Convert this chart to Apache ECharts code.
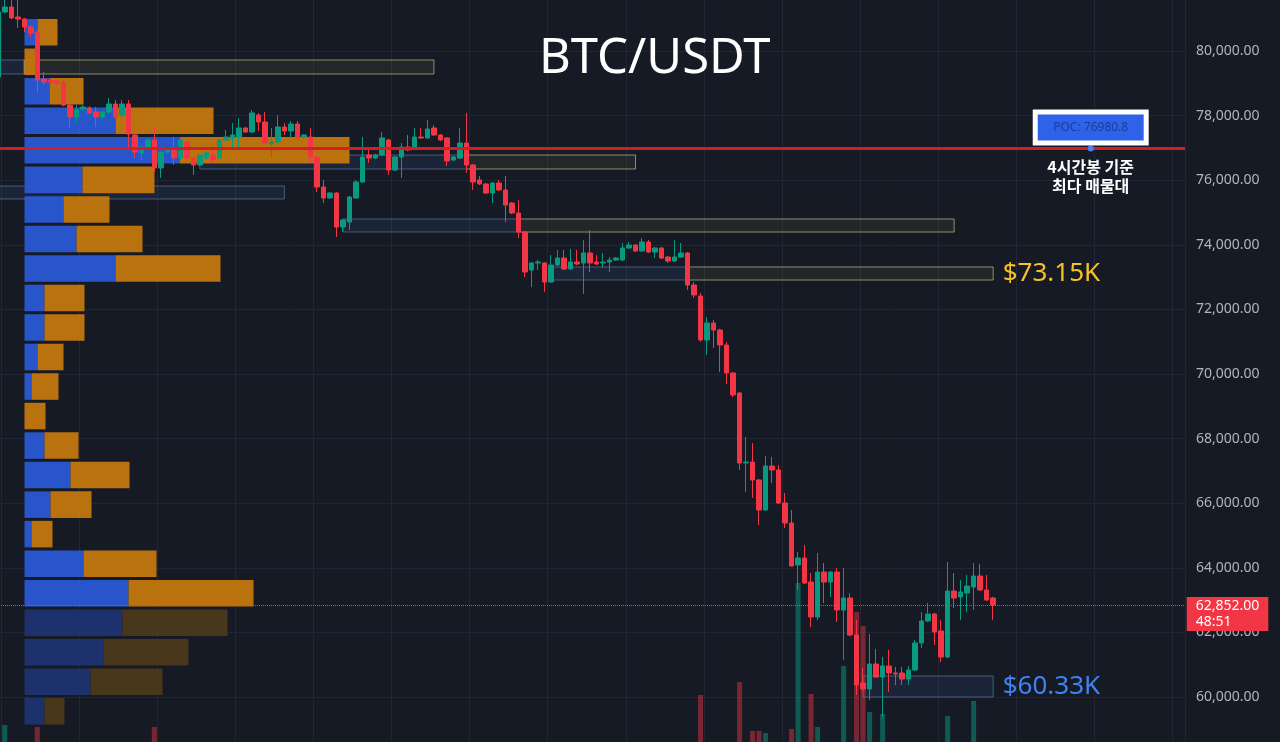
<!DOCTYPE html>
<html>
<head>
<meta charset="utf-8">
<title>BTC/USDT</title>
<script src="https://cdn.jsdelivr.net/npm/echarts/dist/echarts.min.js"></script>
<style>
  html, body { margin: 0; padding: 0; background: #161a25; }
  #c1 { width: 1280px; height: 742px; }
</style>
</head>
<body>
<div id="c1"></div>
<script>
// hourly candles, oldest first: [open, close, low, high]
const candles = [
  [79195, 81207, 79102, 81331], [81207, 81362, 81180, 81600], [81362, 81022, 80990, 81600], [81053, 80991, 80712, 81600],
  [80991, 80743, 80588, 81022], [80743, 80557, 80433, 80800], [80588, 79102, 78700, 80650], [79133, 79040, 78947, 79350],
  [79102, 79040, 78990, 79150], [79070, 79010, 78950, 79100], [79040, 78328, 78290, 79102], [78328, 77957, 77616, 78360],
  [77957, 78173, 77771, 78328], [78204, 78266, 78150, 78330], [78235, 78081, 78050, 78290], [78111, 77957, 77647, 78266],
  [77957, 78111, 77900, 78150], [78111, 78359, 78080, 78545], [78359, 77957, 77926, 78483], [78019, 78359, 77926, 78483],
  [78359, 77430, 77000, 78483], [77399, 76873, 76687, 77430], [76842, 77028, 76625, 77060], [76997, 77245, 76950, 77300],
  [77245, 76378, 76254, 77616], [76378, 76873, 76068, 76900], [76873, 76997, 76840, 77030], [76935, 76687, 76471, 77337],
  [76687, 77245, 76650, 77280], [77183, 76687, 76650, 77210], [76687, 76471, 76161, 76720], [76471, 76780, 76440, 76820],
  [76687, 76842, 76650, 76880], [76780, 76625, 76533, 76935], [76687, 77245, 76650, 77280], [77245, 77337, 77220, 77554],
  [77307, 77399, 77028, 77771], [77337, 77616, 77028, 77926], [77616, 77492, 77460, 77650], [77492, 78081, 77460, 78173],
  [78019, 77802, 77523, 78081], [77802, 77152, 77120, 78111], [77121, 77183, 76687, 77616], [77183, 77647, 77150, 78019],
  [77647, 77523, 77399, 77771], [77523, 77740, 77307, 77833], [77740, 77307, 77245, 77833], [77337, 77399, 77300, 77430],
  [77337, 76718, 76533, 77616], [76718, 75789, 75635, 76750], [75789, 75449, 75294, 76006], [75449, 75604, 75420, 75640],
  [75604, 74551, 74241, 75640], [74551, 74768, 74396, 74800], [74706, 75480, 74458, 75510], [75449, 75944, 75420, 76006],
  [75944, 76718, 75910, 77337], [76780, 76687, 76533, 76935], [76687, 76780, 76650, 76820], [76780, 77307, 76750, 77492],
  [77245, 76316, 76161, 77280], [76316, 76718, 76280, 76750], [76718, 77028, 76068, 77152], [77028, 76935, 76900, 77399],
  [76997, 77337, 76960, 77616], [77337, 77307, 77280, 77616], [77307, 77585, 77280, 77864], [77616, 77399, 77370, 77709],
  [77399, 77245, 77210, 77430], [77307, 76594, 76440, 77337], [76625, 76718, 76590, 76750], [76687, 77152, 76650, 77616],
  [77152, 76471, 76223, 78081], [76471, 75944, 75697, 76500], [76006, 75882, 75850, 76130], [75882, 75604, 75570, 75913],
  [75604, 75913, 75294, 75944], [75913, 75697, 75660, 76006], [75697, 75232, 74706, 76130], [75294, 74985, 74950, 75320],
  [74985, 74396, 74211, 75387], [74396, 73158, 73003, 74420], [73220, 73437, 72693, 73470], [73437, 73467, 73220, 73529],
  [73437, 72848, 72539, 73470], [72848, 73375, 72820, 73684], [73375, 73591, 73340, 73839], [73591, 73251, 73220, 73839],
  [73251, 73467, 73220, 73870], [73467, 73406, 73370, 73839], [73437, 73746, 72477, 74149], [73746, 73437, 73158, 74458],
  [73467, 73406, 73370, 73684], [73437, 73467, 73282, 73746], [73467, 73529, 73158, 73622], [73529, 73591, 73500, 73620],
  [73529, 73901, 73500, 74056], [73901, 73994, 73870, 74087], [73994, 73808, 73780, 74020], [73808, 74087, 73780, 74211],
  [74087, 73777, 73740, 74149], [73777, 73901, 73591, 73930], [73901, 73591, 73560, 73930], [73622, 73498, 73437, 73650],
  [73498, 73622, 73470, 74149], [73622, 73746, 73590, 74056], [73746, 72755, 72601, 73780], [72755, 72446, 72353, 72848],
  [72415, 71053, 71000, 72508], [71053, 71579, 70588, 71765], [71579, 71362, 70805, 71672], [71362, 70898, 70062, 71400],
  [70898, 70031, 69690, 70991], [70031, 69350, 69288, 70062], [69412, 67245, 67028, 69440], [67245, 67275, 66347, 68049],
  [67275, 66718, 66161, 67864], [66718, 65789, 65325, 66750], [65789, 67152, 65760, 67461], [67152, 67028, 66625, 67430],
  [67028, 66006, 65970, 67183], [66006, 65387, 65232, 66316], [65387, 64056, 64030, 65789], [64087, 64303, 63313, 64489],
  [64303, 63529, 63500, 64706], [63560, 62477, 62167, 63839], [62477, 63870, 62384, 64458], [63870, 63560, 62910, 64149],
  [63560, 63870, 63096, 63900], [63870, 62693, 62322, 63994], [62693, 63065, 61145, 63994], [63065, 61919, 61880, 63220],
  [61919, 60371, 60062, 62384], [60433, 60248, 60200, 60900], [60248, 61022, 59907, 61950], [61022, 60619, 60590, 61486],
  [60619, 60960, 59381, 61238], [60960, 60743, 60155, 61455], [60743, 60712, 60371, 60929], [60743, 60557, 60371, 60929],
  [60557, 60836, 60371, 60960], [60836, 61672, 60800, 61765], [61672, 62353, 61517, 62631], [62353, 62570, 62320, 62910],
  [62570, 62012, 61610, 62600], [62043, 61238, 61083, 62384], [61238, 63282, 61200, 64180], [63282, 63065, 62755, 63839],
  [63096, 63251, 62384, 63622], [63220, 63436, 62631, 63777], [63405, 63746, 62693, 64149], [63746, 63313, 63280, 64118],
  [63313, 63003, 62970, 63777], [63065, 62852, 62384, 63100]
];

// only the volume bars that reach into the visible area
const volumeIndex = [1, 6, 24, 108, 114, 116, 117, 118, 122, 123, 125, 126, 130, 132, 133, 134, 136, 146, 150];
const volumeValue = [425, 375, 375, 1175, 1500, 275, 275, 225, 325, 3975, 1200, 375, 1900, 3250, 2900, 750, 700, 650, 1025];

// volume profile (4h): bin low price, buy / sell volume
const profileStep = 914;
const profileLow = [80123, 79209, 78295, 77381, 76467, 75553, 74639, 73725, 72811, 71897, 70983, 70069,
  69155, 68241, 67327, 66413, 65499, 64585, 63671, 62757, 61843, 60929, 60015, 59101];
const profileBuy = [130, 0, 250, 910, 1550, 580, 390, 520, 910, 200, 200, 130,
  70, 0, 200, 460, 260, 70, 590, 1040, 980, 790, 660, 200];
const profileSell = [200, 130, 340, 980, 1700, 720, 460, 660, 1050, 400, 400, 260,
  270, 210, 340, 590, 410, 210, 730, 1250, 1050, 850, 720, 200];

// supply / demand zones: start slot, end slot, top, bottom, kind
const zoneStart = [0, 4, 31, 72, 0, 53, 80, 85, 106, 133];
const zoneEnd = [4, 67, 72, 98, 44, 80, 147, 106, 153, 153];
const zoneTop = [79721, 79721, 76780, 76780, 75820, 74799, 74799, 73313, 73313, 60651];
const zoneBottom = [79288, 79288, 76347, 76347, 75418, 74396, 74396, 72910, 72910, 60000];
const zoneKind = ['blue', 'yellow', 'blue', 'yellow', 'blue', 'blue', 'yellow', 'blue', 'yellow', 'blue'];
const zoneLabel = ['', '', '', '', '', '', '', '', '$73.15K', '$60.33K'];

const pocPrice = 76980.8;
const lastPrice = 62852;
const countdown = '48:51';

const slotCount = 183;
const slots = [];
for (let i = 0; i < slotCount; i++) {
  slots.push('h' + i);
}

const upColor = '#089981';
const downColor = '#f23645';
const gridColor = '#222633';

function fmt(v) {
  return v.toLocaleString('en-US', { minimumFractionDigits: 2, maximumFractionDigits: 2 });
}

var chartDom = document.getElementById('c1');
var myChart = echarts.init(chartDom);
var option;

const zoneData = zoneStart.map(function (s, i) {
  const blue = zoneKind[i] === 'blue';
  return [
    {
      coord: [s, zoneTop[i]],
      itemStyle: {
        color: blue ? 'rgba(70,110,180,0.13)' : 'rgba(130,120,70,0.14)',
        borderColor: blue ? 'rgba(110,140,195,0.55)' : 'rgba(185,178,120,0.75)',
        borderWidth: 1
      },
      label: {
        show: zoneLabel[i] !== '',
        position: 'right',
        distance: 9,
        formatter: zoneLabel[i],
        color: blue ? '#3f82f4' : '#f5c227',
        fontSize: 26,
        fontFamily: 'Noto Sans'
      }
    },
    { coord: [zoneEnd[i], zoneBottom[i]] }
  ];
});

const profileData = profileLow.map(function (lo, i) {
  return [lo, lo + profileStep, profileBuy[i], profileSell[i]];
});

const volumeData = candles.map(function () { return '-'; });
volumeIndex.forEach(function (k, j) {
  const up = candles[k][1] >= candles[k][0];
  volumeData[k] = {
    value: volumeValue[j],
    itemStyle: { color: up ? 'rgba(8,153,129,0.5)' : 'rgba(242,54,69,0.45)' }
  };
});

option = {
  backgroundColor: '#161a25',
  animation: false,
  title: {
    text: 'BTC/USDT',
    left: 534,
    top: 30,
    textStyle: { color: '#ffffff', fontSize: 49, fontWeight: 'normal', fontFamily: 'Noto Sans' }
  },
  grid: [
    { left: -5, right: 95, top: -13.6, bottom: -19.6, outerBoundsMode: 'none', containLabel: false },
    { left: 24.5, width: 400, top: -13.6, bottom: -19.6, outerBoundsMode: 'none', containLabel: false },
    { left: -5, right: 95, top: 342, bottom: 0, outerBoundsMode: 'none', containLabel: false }
  ],
  xAxis: [
    {
      type: 'category',
      gridIndex: 0,
      data: slots,
      axisLine: { show: false },
      axisTick: { show: false },
      axisLabel: { show: false },
      splitLine: {
        show: true,
        interval: function (i) { return i % 12 === 1; },
        lineStyle: { color: gridColor }
      }
    },
    { type: 'value', gridIndex: 1, min: 0, max: 4000, show: false },
    { type: 'category', gridIndex: 2, data: slots, show: false }
  ],
  yAxis: [
    {
      type: 'value',
      gridIndex: 0,
      position: 'right',
      min: 58000,
      max: 82000,
      interval: 2000,
      axisLine: { show: false },
      axisTick: { show: false },
      axisLabel: { color: '#b2b5be', fontSize: 14, margin: 11, fontFamily: 'Noto Sans', formatter: fmt },
      splitLine: { lineStyle: { color: gridColor } }
    },
    { type: 'value', gridIndex: 1, min: 58000, max: 82000, show: false },
    { type: 'value', gridIndex: 2, min: 0, max: 10000, show: false }
  ],
  series: [
    {
      name: 'levels',
      type: 'line',
      xAxisIndex: 0,
      yAxisIndex: 0,
      data: [],
      z: 1,
      clip: false,
      silent: true,
      markArea: { silent: true, data: zoneData },
      markLine: {
        silent: true,
        symbol: 'none',
        label: { show: false },
        data: [
          { yAxis: pocPrice, lineStyle: { color: '#d21f1f', width: 3, type: 'solid' } },
          { yAxis: lastPrice, lineStyle: { color: '#e0493f', width: 1, type: 'dotted' } }
        ]
      },
      markPoint: {
        silent: true,
        data: [
          {
            coord: [168, pocPrice],
            symbol: 'circle',
            symbolSize: 0,
            label: {
              show: true,
              position: 'top',
              distance: 8,
              formatter: 'POC: ' + pocPrice,
              backgroundColor: '#2e62e8',
              borderColor: '#ffffff',
              borderWidth: 5,
              padding: [6.5, 15.5],
              color: '#1b3c9e',
              fontSize: 12,
              lineHeight: 13,
              fontFamily: 'Noto Sans'
            }
          },
          {
            coord: [168, pocPrice],
            symbol: 'circle',
            symbolSize: 6,
            itemStyle: { color: '#4c7ef5' },
            label: {
              show: true,
              position: 'bottom',
              distance: 6,
              formatter: '4시간봉 기준\n최다 매물대',
              color: '#ffffff',
              fontSize: 16,
              lineHeight: 19,
              fontWeight: 'bold',
              align: 'center',
              fontFamily: 'Noto Sans CJK KR'
            }
          },
          {
            coord: [182, lastPrice],
            symbol: 'circle',
            symbolSize: 0,
            label: {
              show: true,
              position: 'right',
              distance: 5,
              offset: [0, 9],
              formatter: fmt(lastPrice) + '\n' + countdown,
              backgroundColor: downColor,
              color: '#ffffff',
              padding: [1, 9],
              fontSize: 14,
              lineHeight: 16,
              align: 'left',
              fontFamily: 'Noto Sans'
            }
          }
        ]
      }
    },
    {
      name: 'profile',
      type: 'custom',
      xAxisIndex: 1,
      yAxisIndex: 1,
      z: 2,
      silent: true,
      encode: { x: [2, 3], y: [0, 1] },
      data: profileData,
      renderItem: function (params, api) {
        const lo = api.value(0);
        const hi = api.value(1);
        const buy = api.value(2);
        const sell = api.value(3);
        const a = api.coord([0, hi]);
        const b = api.coord([buy, lo]);
        const c = api.coord([buy + sell, lo]);
        const dim = hi <= lastPrice;
        const top = a[1] + 1.5;
        const h = b[1] - a[1] - 3;
        return {
          type: 'group',
          children: [
            {
              type: 'rect',
              shape: { x: a[0], y: top, width: b[0] - a[0], height: h },
              style: { fill: dim ? '#1e3472' : '#2b5ad8', opacity: 0.92 }
            },
            {
              type: 'rect',
              shape: { x: b[0], y: top, width: c[0] - b[0], height: h },
              style: { fill: dim ? '#4e3a1b' : '#c97a0c', opacity: 0.92 }
            }
          ]
        };
      }
    },
    {
      name: 'volume',
      type: 'bar',
      xAxisIndex: 2,
      yAxisIndex: 2,
      z: 2,
      barWidth: 5,
      silent: true,
      data: volumeData
    },
    {
      name: 'BTC/USDT',
      type: 'candlestick',
      xAxisIndex: 0,
      yAxisIndex: 0,
      z: 3,
      barWidth: 5,
      silent: true,
      data: candles,
      itemStyle: {
        color: upColor,
        color0: downColor,
        borderColor: upColor,
        borderColor0: downColor,
        borderWidth: 1
      }
    }
  ]
};

myChart.setOption(option);
window.addEventListener('resize', function () {
  myChart.resize();
});
</script>
</body>
</html>
